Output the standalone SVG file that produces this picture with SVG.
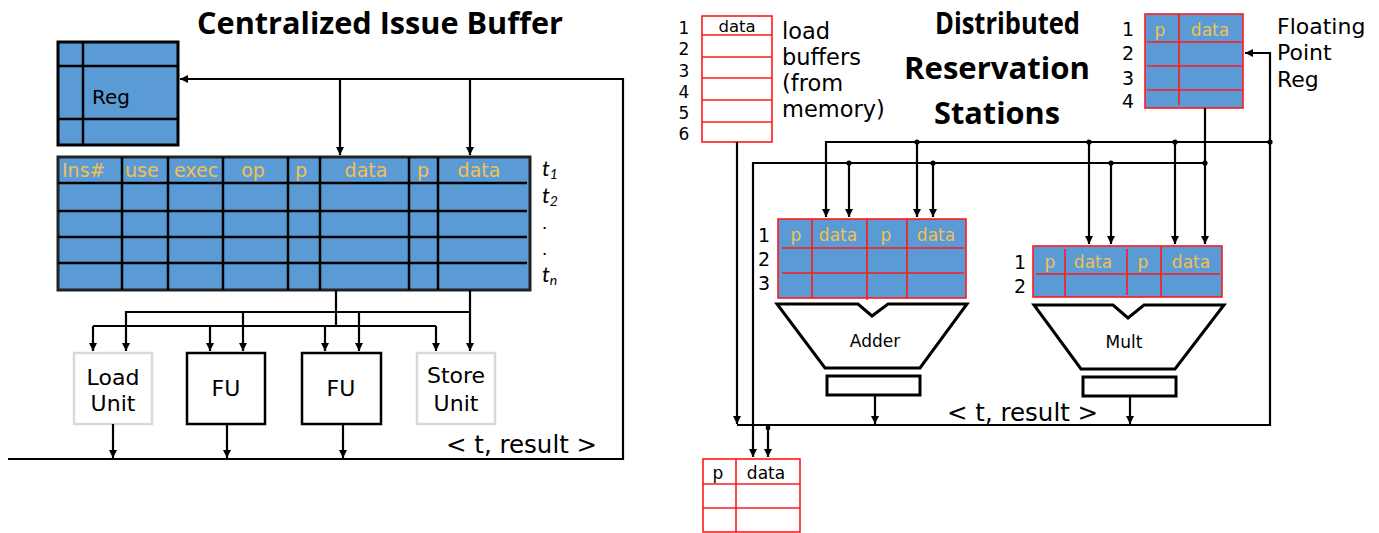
<svg xmlns="http://www.w3.org/2000/svg" width="1379" height="533" viewBox="0 0 1379 533">
  <defs>
    <marker id="arrow" viewBox="0 0 10 10" refX="10" refY="5" markerUnits="userSpaceOnUse" markerWidth="9" markerHeight="8" orient="auto">
      <path d="M0,0 L10,5 L0,10 z" fill="#000"/>
    </marker>
    <style>
      .title { font-family: "Open Sans", Lato, sans-serif; font-weight: 700; font-size: 31px; fill: #000; }
      .lbl { font-family: "DejaVu Sans", Verdana, sans-serif; fill: #000; }
      .hdr { font-family: "DejaVu Sans", Verdana, sans-serif; fill: #F2C14E; }
      .tl { font-family: Lato, "DejaVu Sans", sans-serif; font-style: italic; fill: #000; }
      .blue { fill: #5B9BD5; }
      .blk { stroke: #000; fill: none; }
      .red { stroke: #FF1A1A; stroke-width: 1.6; fill: none; }
      .wire { stroke: #000; stroke-width: 2.2; fill: none; }
      .arr { marker-end: url(#arrow); }
      .dot { fill: #000; }
    </style>
  </defs>
  <rect width="1379" height="533" fill="#fff"/>

  <!-- ===== Centralized issue buffer (left) ===== -->
  <text class="title" x="197" y="34" textLength="366" lengthAdjust="spacingAndGlyphs">Centralized Issue Buffer</text>

  <g id="reg">
    <rect x="58" y="42" width="120" height="103" class="blue" stroke="#000" stroke-width="3"/>
    <path class="blk" stroke-width="2.5" d="M83,42 V145 M58,66 H178 M58,119 H178"/>
    <text class="lbl" x="92" y="104" font-size="20">Reg</text>
  </g>

  <g id="issue-table">
    <rect x="58" y="157" width="472" height="133" class="blue" stroke="#222" stroke-width="3"/>
    <path class="blk" stroke-width="2.5" d="M122,157 V290 M168,157 V290 M223,157 V290 M288,157 V290 M320,157 V290 M409,157 V290 M438,157 V290"/>
    <path class="blk" stroke-width="2.5" d="M58,183 H527 M58,211 H527 M58,237 H527 M58,263 H527"/>
    <g class="hdr" font-size="19">
      <text x="62" y="177">Ins#</text>
      <text x="125" y="177">use</text>
      <text x="174" y="177">exec</text>
      <text x="253" y="177" text-anchor="middle">op</text>
      <text x="301" y="177" text-anchor="middle">p</text>
      <text x="366" y="177" text-anchor="middle">data</text>
      <text x="423" y="177" text-anchor="middle">p</text>
      <text x="479" y="177" text-anchor="middle">data</text>
    </g>
    <!-- row tags -->
    <g class="tl" font-size="22">
      <text x="542" y="176">t<tspan font-size="14" dy="3">1</tspan></text>
      <text x="542" y="203">t<tspan font-size="14" dy="3">2</tspan></text>
      <text x="543" y="229" font-size="18">.</text>
      <text x="543" y="255" font-size="18">.</text>
      <text x="542" y="282">t<tspan font-size="14" dy="3">n</tspan></text>
    </g>
  </g>

  <g id="load-unit">
    <rect x="74" y="353" width="78" height="71" fill="#fff" stroke="#D9D9D9" stroke-width="2.5"/>
    <text class="lbl" x="113" y="385" font-size="22" text-anchor="middle">Load</text>
    <text class="lbl" x="113" y="411" font-size="22" text-anchor="middle">Unit</text>
  </g>
  <g id="fu-1">
    <rect x="187" y="353" width="78" height="71" fill="#fff" stroke="#000" stroke-width="2.5"/>
    <text class="lbl" x="226" y="396" font-size="22" text-anchor="middle">FU</text>
  </g>
  <g id="fu-2">
    <rect x="302" y="353" width="79" height="71" fill="#fff" stroke="#000" stroke-width="2.5"/>
    <text class="lbl" x="341" y="396" font-size="22" text-anchor="middle">FU</text>
  </g>
  <g id="store-unit">
    <rect x="417" y="353" width="78" height="71" fill="#fff" stroke="#D9D9D9" stroke-width="2.5"/>
    <text class="lbl" x="456" y="383" font-size="22" text-anchor="middle">Store</text>
    <text class="lbl" x="456" y="411" font-size="22" text-anchor="middle">Unit</text>
  </g>

  <text class="lbl" x="446" y="453" font-size="24.5">&lt; t, result &gt;</text>

  <!-- ===== Distributed reservation stations (right) ===== -->
  <g class="title">
    <text x="935" y="34" textLength="145" lengthAdjust="spacingAndGlyphs">Distributed</text>
    <text x="904" y="79" textLength="186" lengthAdjust="spacingAndGlyphs">Reservation</text>
    <text x="934" y="124" textLength="126" lengthAdjust="spacingAndGlyphs">Stations</text>
  </g>

  <g id="load-buffers">
    <rect x="702" y="16" width="70" height="126" fill="#fff" class="red"/>
    <path class="red" d="M702,35 H772 M702,57 H772 M702,78 H772 M702,100 H772 M702,122 H772"/>
    <text class="lbl" x="737" y="32" font-size="16.5" text-anchor="middle">data</text>
    <g class="lbl" font-size="17" text-anchor="middle">
      <text x="684" y="34">1</text>
      <text x="684" y="55">2</text>
      <text x="684" y="77">3</text>
      <text x="684" y="98">4</text>
      <text x="684" y="119">5</text>
      <text x="684" y="140">6</text>
    </g>
    <g class="lbl" font-size="22.5">
      <text x="782" y="39">load</text>
      <text x="782" y="65">buffers</text>
      <text x="782" y="91">(from</text>
      <text x="782" y="117">memory)</text>
    </g>
  </g>

  <g id="fp-reg">
    <rect x="1145" y="14" width="98" height="94" class="blue" stroke="#FF1A1A" stroke-width="1.6"/>
    <path class="red" d="M1179,14 V105 M1147,42 H1242 M1147,66 H1242 M1147,90 H1242"/>
    <text class="hdr" x="1160" y="36" font-size="17" text-anchor="middle">p</text>
    <text class="hdr" x="1210" y="36" font-size="17" text-anchor="middle">data</text>
    <g class="lbl" font-size="19" text-anchor="middle">
      <text x="1128" y="36">1</text>
      <text x="1128" y="60">2</text>
      <text x="1128" y="85">3</text>
      <text x="1128" y="108">4</text>
    </g>
    <g class="lbl" font-size="22">
      <text x="1277" y="34">Floating</text>
      <text x="1277" y="60">Point</text>
      <text x="1277" y="87">Reg</text>
    </g>
  </g>

  <g id="rs-adder">
    <rect x="778" y="219" width="188" height="79" class="blue" stroke="#FF1A1A" stroke-width="1.6"/>
    <path class="red" d="M812,219 V298 M867,219 V300 M907,219 V298 M782,248 H964 M782,273 H964"/>
    <g class="hdr" font-size="17" text-anchor="middle">
      <text x="796" y="241">p</text>
      <text x="838" y="241">data</text>
      <text x="886" y="241">p</text>
      <text x="936" y="241">data</text>
    </g>
    <g class="lbl" font-size="19" text-anchor="middle">
      <text x="764" y="242">1</text>
      <text x="764" y="266">2</text>
      <text x="764" y="290">3</text>
    </g>
  </g>

  <g id="rs-mult">
    <rect x="1033" y="246" width="189" height="51" class="blue" stroke="#FF1A1A" stroke-width="1.6"/>
    <path class="red" d="M1065,249 V297 M1127,249 V295 M1161,246 V297 M1036,274 H1220"/>
    <g class="hdr" font-size="17" text-anchor="middle">
      <text x="1050" y="268">p</text>
      <text x="1093" y="268">data</text>
      <text x="1143" y="268">p</text>
      <text x="1191" y="268">data</text>
    </g>
    <g class="lbl" font-size="19" text-anchor="middle">
      <text x="1020" y="269">1</text>
      <text x="1020" y="293">2</text>
    </g>
  </g>

  <g id="adder">
    <path d="M777,304 L858,304 L872,316 L888,304 L967,304 L920,368 L825,368 Z" fill="#fff" stroke="#000" stroke-width="3" stroke-linejoin="miter"/>
    <text class="lbl" x="875" y="347" font-size="17" text-anchor="middle">Adder</text>
    <rect x="827" y="376" width="93" height="19" fill="#fff" stroke="#000" stroke-width="3"/>
  </g>

  <g id="mult">
    <path d="M1034,305 L1113,305 L1128,318 L1144,305 L1224,305 L1175,369 L1081,369 Z" fill="#fff" stroke="#000" stroke-width="3" stroke-linejoin="miter"/>
    <text class="lbl" x="1124" y="348" font-size="17" text-anchor="middle">Mult</text>
    <rect x="1083" y="377" width="93" height="19" fill="#fff" stroke="#000" stroke-width="3"/>
  </g>

  <text class="lbl" x="947" y="421" font-size="24.5">&lt; t, result &gt;</text>

  <g id="store-buffer">
    <rect x="703" y="459" width="97" height="73" fill="#fff" class="red"/>
    <path class="red" d="M736,459 V532 M703,484 H800 M703,508 H800"/>
    <text class="lbl" x="718" y="479" font-size="17" text-anchor="middle">p</text>
    <text class="lbl" x="766" y="479" font-size="17" text-anchor="middle">data</text>
  </g>

  <!-- ===== Connectors ===== -->
  <g id="connectors">
    <!-- left: result bus back to the register file and issue buffer -->
    <path class="wire arr" d="M8,459 H623 V79 H180"/>
    <path class="wire arr" d="M340,79 V155"/>
    <path class="wire arr" d="M470,79 V155"/>
    <!-- left: operand dispatch to units -->
    <path class="wire arr" d="M470,290 V351"/>
    <path class="wire arr" d="M470,312 H126 V351"/>
    <path class="wire arr" d="M243,312 V351"/>
    <path class="wire arr" d="M359,312 V351"/>
    <path class="wire" d="M336,290 V326 M93,326 H436"/>
    <path class="wire arr" d="M93,326 V351"/>
    <path class="wire arr" d="M210,326 V351"/>
    <path class="wire arr" d="M325,326 V351"/>
    <path class="wire arr" d="M436,326 V351"/>
    <!-- left: unit results onto the bus -->
    <path class="wire arr" d="M113,424 V458"/>
    <path class="wire arr" d="M227,424 V458"/>
    <path class="wire arr" d="M343,424 V458"/>

    <!-- right: load buffers onto the result bus -->
    <path class="wire arr" d="M737,142 V424"/>
    <!-- right: result bus, loop to FP registers -->
    <path class="wire arr" d="M737,425 H1270 V53 H1245"/>
    <!-- right: result bus distribution line -->
    <path class="wire arr" d="M1270,142 H826 V217"/>
    <path class="wire arr" d="M917,142 V217"/>
    <path class="wire arr" d="M1089,142 V244"/>
    <path class="wire arr" d="M1175,142 V244"/>
    <!-- right: register operand line -->
    <path class="wire arr" d="M1205,108 V244"/>
    <path class="wire arr" d="M1205,163 H753 V457"/>
    <path class="wire arr" d="M849,163 V217"/>
    <path class="wire arr" d="M933,163 V217"/>
    <path class="wire arr" d="M1111,163 V244"/>
    <!-- right: functional unit results -->
    <path class="wire arr" d="M875,395 V424"/>
    <path class="wire arr" d="M1130,396 V424"/>
    <path class="wire arr" d="M768,427 V457"/>
    <!-- junction dots -->
    <circle class="dot" cx="917" cy="142" r="2.6"/>
    <circle class="dot" cx="1089" cy="142" r="2.6"/>
    <circle class="dot" cx="1175" cy="142" r="2.6"/>
    <circle class="dot" cx="1270" cy="142" r="2.6"/>
    <circle class="dot" cx="849" cy="163" r="2.6"/>
    <circle class="dot" cx="933" cy="163" r="2.6"/>
    <circle class="dot" cx="1111" cy="163" r="2.6"/>
    <circle class="dot" cx="1205" cy="163" r="2.6"/>
    <circle class="dot" cx="768" cy="428" r="2.4"/>
  </g>
</svg>
